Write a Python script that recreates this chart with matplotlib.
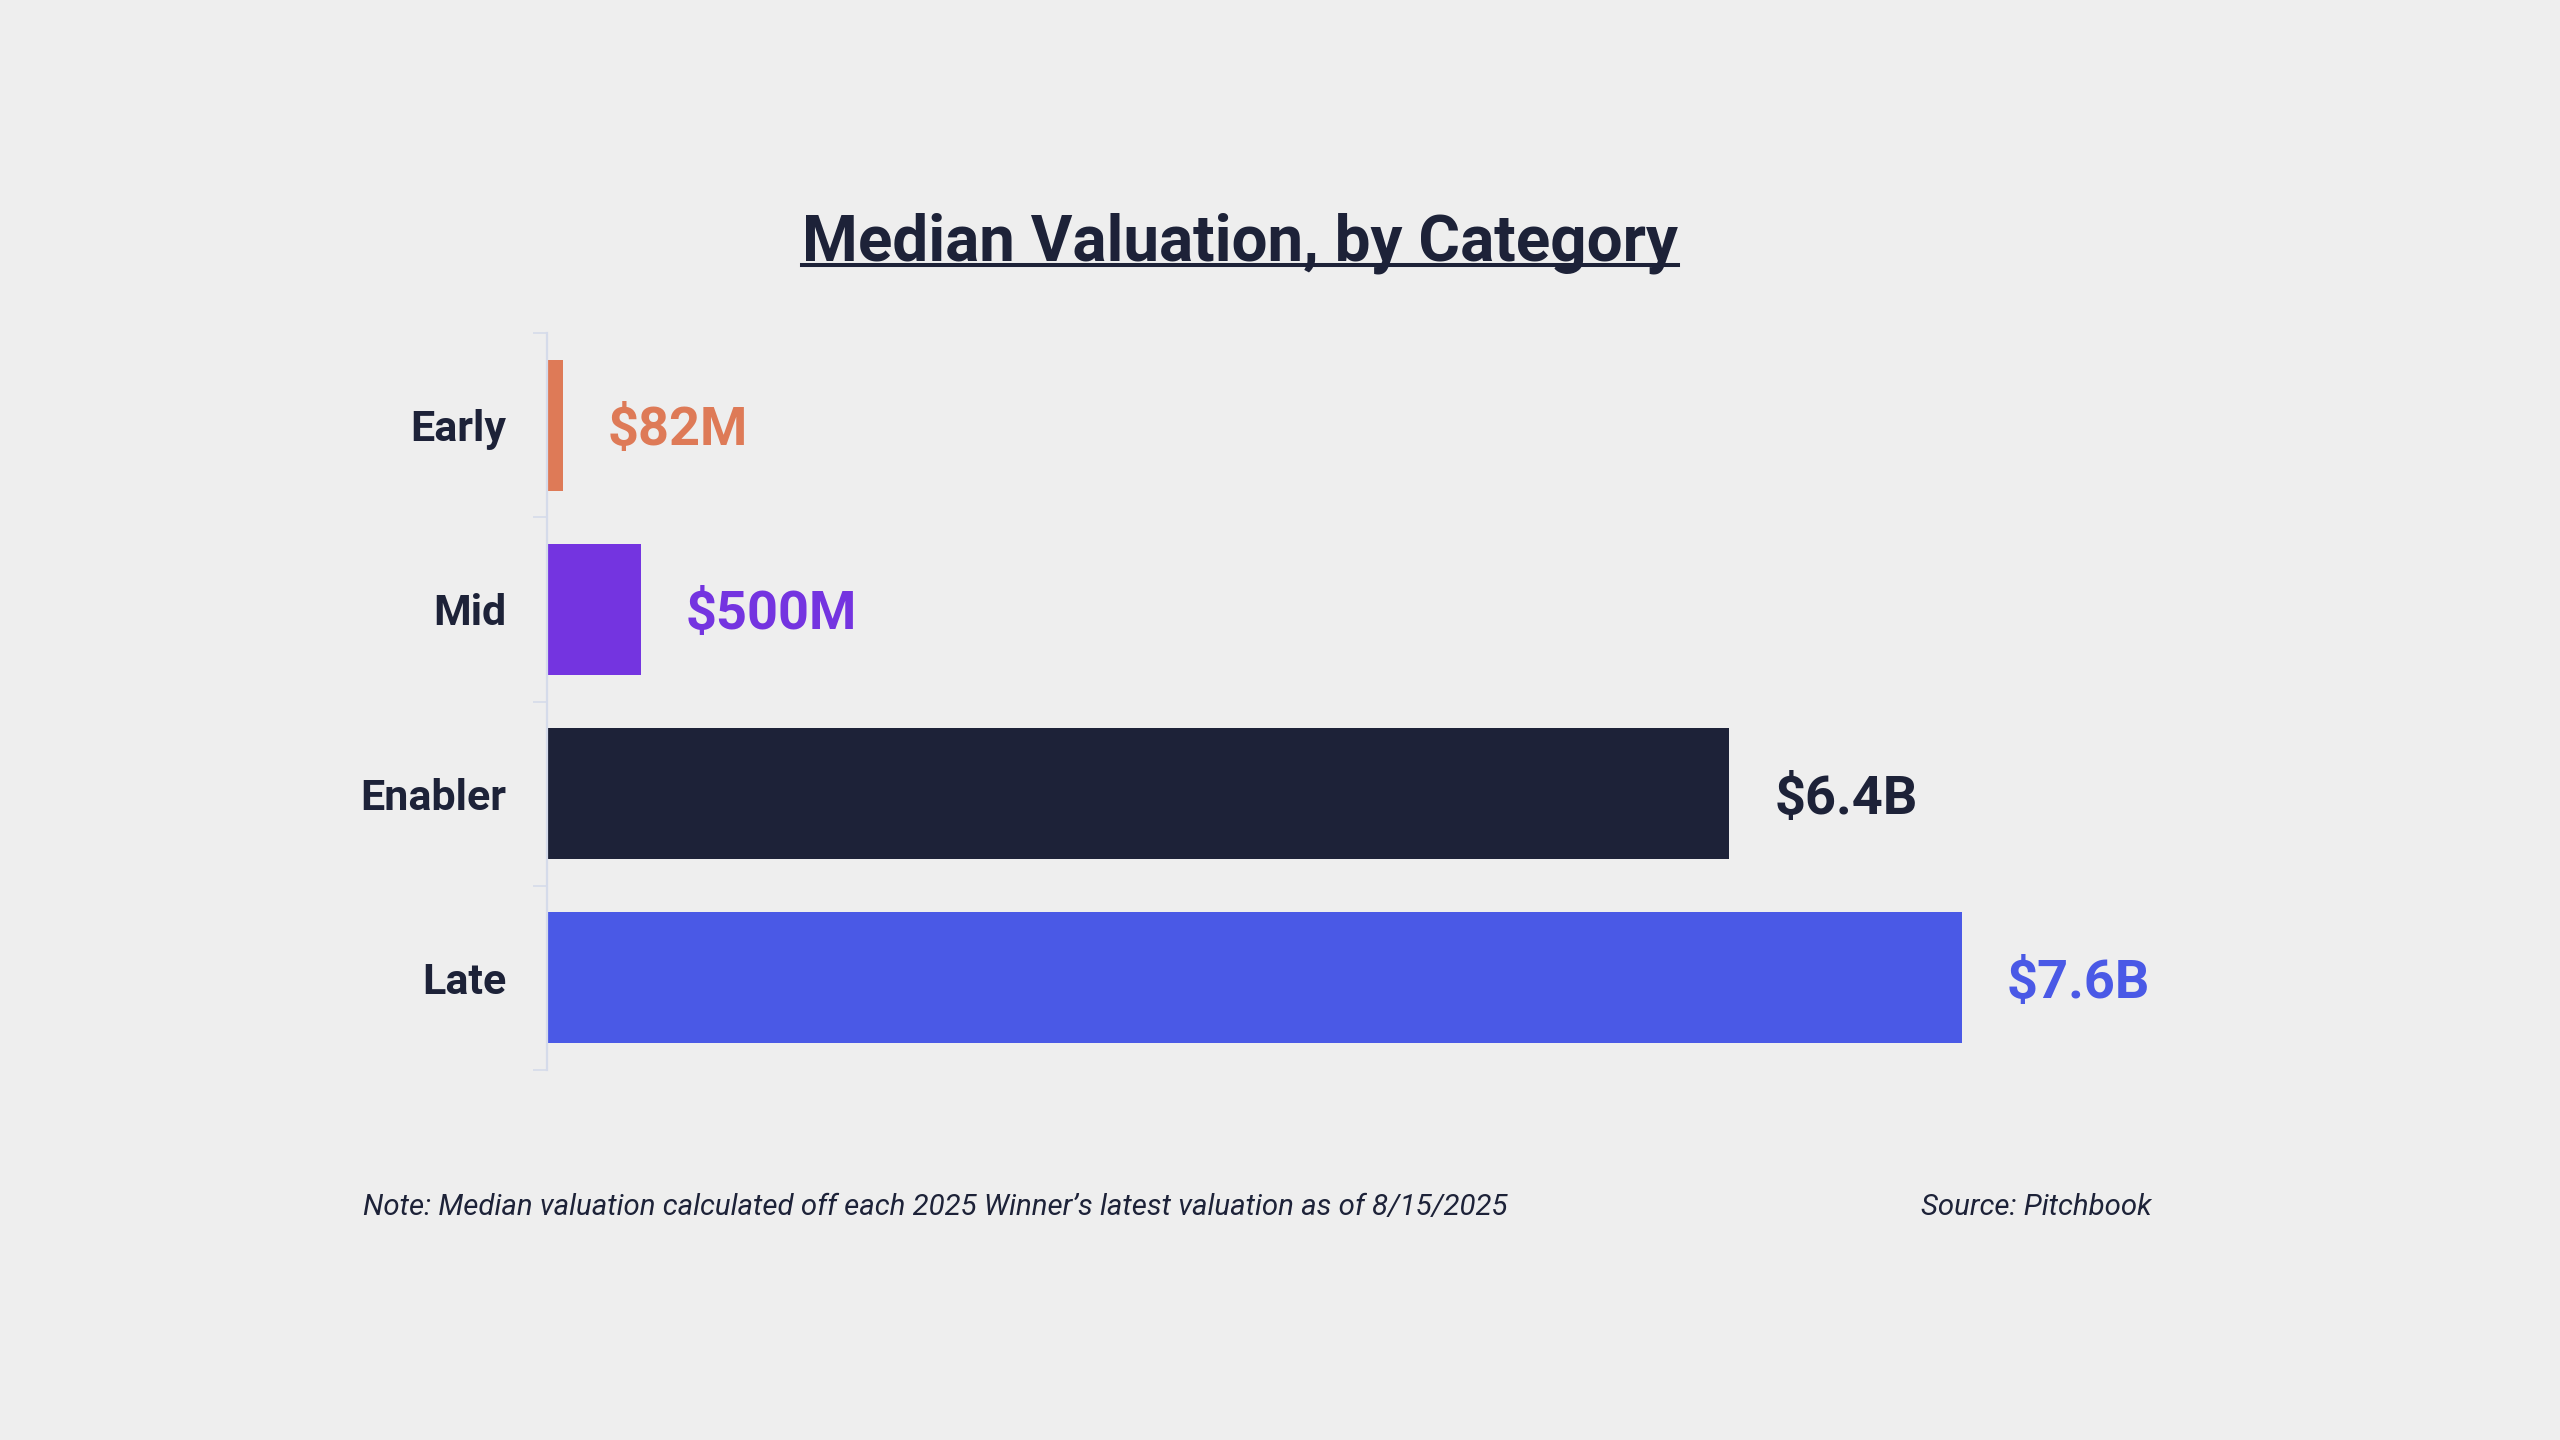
import matplotlib
matplotlib.use("Agg")
import matplotlib.pyplot as plt
from matplotlib.lines import Line2D

# Données (milliards de dollars)
categories = ["Early", "Mid", "Enabler", "Late"]
valuations = [0.082, 0.5, 6.35, 7.6]
value_labels = ["$82M", "$500M", "$6.4B", "$7.6B"]
bar_colors = ["#DE7A57", "#7434E0", "#1D2238", "#4A59E6"]

TITLE = "Median Valuation, by Category"
NOTE = "Note: Median valuation calculated off each 2025 Winner\u2019s latest valuation as of 8/15/2025"
SOURCE = "Source: Pitchbook"

BG = "#EEEEEE"
NAVY = "#1D2238"
SPINE = "#D5DBEA"

plt.rcParams["font.family"] = ["Roboto", "DejaVu Sans"]

W, H, DPI = 2560, 1440, 100
fig = plt.figure(figsize=(W / DPI, H / DPI), dpi=DPI, facecolor=BG)

# Position de l'axe en pixels (repère haut-gauche)
ax_left, ax_right, ax_top, ax_bottom = 547, 2160, 333, 1070
ax = fig.add_axes([ax_left / W, 1 - ax_bottom / H,
                   (ax_right - ax_left) / W, (ax_bottom - ax_top) / H])
ax.set_facecolor(BG)

px_per_unit = 1414 / 7.6
ax.set_xlim(0, (ax_right - ax_left) / px_per_unit)
ax.set_ylim(len(categories) - 0.5, -0.5)

ypos = list(range(len(categories)))
ax.barh(ypos, valuations, height=0.71, color=bar_colors, left=0.005)

for y, v, lab, c in zip(ypos, valuations, value_labels, bar_colors):
    ax.annotate(lab, xy=(v, y), xytext=(33, 0), textcoords="offset points",
                ha="left", va="center_baseline", fontsize=39,
                fontweight="bold", color=c)

ax.set_yticks(ypos)
ax.set_yticklabels(categories, fontsize=31, fontweight="bold", color=NAVY)
ax.set_yticks([y - 0.5 for y in ypos] + [len(categories) - 0.5], minor=True)
ax.tick_params(axis="y", which="major", length=0, pad=29)
ax.tick_params(axis="y", which="minor", length=10, width=1.2, color=SPINE)
ax.set_xticks([])

for side in ["top", "right", "bottom"]:
    ax.spines[side].set_visible(False)
ax.spines["left"].set_color(SPINE)
ax.spines["left"].set_linewidth(1.6)

# Titre souligné
title = fig.text(1240 / W, 1 - 260 / H, TITLE, ha="center", va="baseline",
                 fontsize=45.9, fontweight="bold", color=NAVY)
fig.canvas.draw()
bb = title.get_window_extent(fig.canvas.get_renderer())
uy = 1 - 265 / H
fig.add_artist(Line2D([bb.x0 / W, bb.x1 / W], [uy, uy], color=NAVY,
                      linewidth=2.9, transform=fig.transFigure))

fig.text(363 / W, 1 - 1215 / H, NOTE, ha="left", va="baseline",
         fontsize=21.2, style="italic", color=NAVY)
fig.text(2152 / W, 1 - 1215 / H, SOURCE, ha="right", va="baseline",
         fontsize=21.2, style="italic", color=NAVY)

fig.savefig("out.png", dpi=DPI, facecolor=BG)
